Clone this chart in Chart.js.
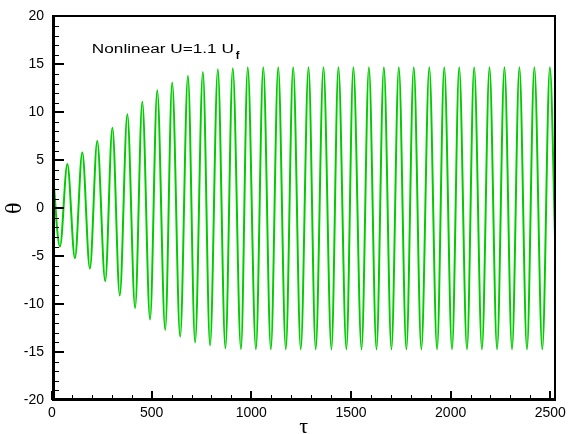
<!DOCTYPE html>
<html>
<head>
<meta charset="utf-8">
<script src="https://cdn.jsdelivr.net/npm/chart.js@4/dist/chart.umd.min.js"></script>
<style>
  html, body { margin: 0; padding: 0; background: #fff; }
  #wrap { width: 571px; height: 434px; }
</style>
</head>
<body>
<div id="wrap"><canvas id="chart"></canvas></div>
<script>
// values: local maxima / minima of theta(tau)
const startPoint = { x: 0, y: 5.0 };
const peakTau = [77, 152, 227, 303, 378, 453, 528, 603, 682, 757, 832, 907, 982, 1060, 1135, 1210, 1287,
  1362, 1437, 1512, 1590, 1665, 1740, 1815, 1893, 1968, 2043, 2118, 2195, 2270, 2345, 2420, 2498];
const peakTheta = [4.6, 5.8, 7.0, 8.4, 9.8, 11.1, 12.3, 13.1, 13.8, 14.2, 14.5, 14.6, 14.7, 14.7, 14.7, 14.7, 14.7,
  14.7, 14.7, 14.7, 14.7, 14.7, 14.7, 14.7, 14.7, 14.7, 14.7, 14.7, 14.7, 14.7, 14.7, 14.7, 14.7];
const troughTau = [40, 115, 190, 267, 340, 417, 492, 568, 643, 718, 793, 870, 948, 1023, 1098, 1173, 1248,
  1323, 1402, 1477, 1553, 1628, 1703, 1778, 1853, 1932, 2007, 2082, 2157, 2233, 2308, 2383, 2460];
const troughTheta = [-4.0, -5.2, -6.3, -7.6, -9.1, -10.4, -11.6, -12.7, -13.4, -14.0, -14.3, -14.6, -14.7, -14.7, -14.7, -14.7, -14.7,
  -14.7, -14.7, -14.7, -14.7, -14.7, -14.7, -14.7, -14.7, -14.7, -14.7, -14.7, -14.7, -14.7, -14.7, -14.7, -14.7];
const endPoint = { x: 2525, y: -4.0 };

const xTicks = [0, 500, 1000, 1500, 2000, 2500];
const yTicks = [-20, -15, -10, -5, 0, 5, 10, 15, 20];
const xMinorStep = 100;
const yMinorStep = 1;

const points = [startPoint, endPoint];
peakTau.forEach((t, i) => points.push({ x: t, y: peakTheta[i] }));
troughTau.forEach((t, i) => points.push({ x: t, y: troughTheta[i] }));
points.sort((a, b) => a.x - b.x);

const FONT = "'Liberation Sans', Arial, sans-serif";

const frame = {
  id: 'frame',
  afterDraw(chart) {
    const ctx = chart.ctx;
    const a = chart.chartArea;
    const x = chart.scales.x, y = chart.scales.y;
    const L = Math.round(a.left), R = Math.round(a.right), T = Math.round(a.top), B = Math.round(a.bottom);
    ctx.save();
    ctx.fillStyle = '#000';
    // minor ticks, inward
    for (let v = x.min; v <= x.max; v += xMinorStep) {
      const px = Math.round(x.getPixelForValue(v));
      ctx.fillRect(px, B - 5, 1, 5);
    }
    for (let v = y.min; v <= y.max; v += yMinorStep) {
      const py = Math.round(y.getPixelForValue(v));
      ctx.fillRect(L, py, 7, 1);
    }
    // major ticks
    xTicks.forEach(v => {
      const px = Math.round(x.getPixelForValue(v));
      ctx.fillRect(px - 1, B - 9, 2, 9);
    });
    yTicks.forEach(v => {
      const py = Math.round(y.getPixelForValue(v));
      ctx.fillRect(L, py - 1, 12, 2);
    });
    // box
    ctx.fillRect(L, T - 1, R - L + 1, 2);   // top
    ctx.fillRect(R - 1, T - 1, 2, B - T + 2); // right
    ctx.fillRect(L, T - 1, 3, B - T + 2);   // left
    ctx.fillRect(L, B - 2, R - L + 1, 3);   // bottom

    // label
    const lx = x.getPixelForValue(200), ly = y.getPixelForValue(16.2);
    const s = 'Nonlinear U=1.1 U';
    ctx.textBaseline = 'alphabetic';
    ctx.textAlign = 'left';
    ctx.font = '12px ' + FONT;
    const w = ctx.measureText(s).width;
    const k = 142 / w;
    ctx.save();
    ctx.translate(lx, ly);
    ctx.scale(k, 1);
    ctx.fillText(s, 0, 0);
    ctx.restore();
    ctx.font = 'bold 11px ' + FONT;
    ctx.fillText('f', lx + 144, ly + 6);
    ctx.restore();
  }
};

new Chart(document.getElementById('chart'), {
  type: 'line',
  data: {
    datasets: [{
      label: 'theta',
      data: points,
      borderColor: '#00cc00',
      borderWidth: 2,
      pointRadius: 0,
      fill: false,
      cubicInterpolationMode: 'monotone'
    }]
  },
  options: {
    responsive: true,
    maintainAspectRatio: false,
    animation: false,
    layout: { padding: { top: 15, right: 14, left: 0, bottom: 0 } },
    plugins: { legend: { display: false }, tooltip: { enabled: false } },
    scales: {
      x: {
        type: 'linear',
        min: 0,
        max: 2525,
        afterBuildTicks: s => { s.ticks = xTicks.map(v => ({ value: v })); },
        afterFit: s => { s.height = 34; },
        grid: { display: false, drawTicks: false },
        border: { display: false },
        ticks: { color: '#000', padding: 5, maxRotation: 0, font: { family: FONT, size: 14 }, callback: v => String(v) },
        title: { display: true, text: 'τ', color: '#000', padding: { top: 0, bottom: -6 }, font: { family: 'serif', size: 22 } }
      },
      y: {
        min: -20,
        max: 20,
        afterBuildTicks: s => { s.ticks = yTicks.map(v => ({ value: v })); },
        afterFit: s => { s.width = 52; },
        grid: { display: false, drawTicks: false },
        border: { display: false },
        ticks: { color: '#000', padding: 8, font: { family: FONT, size: 14 }, callback: v => String(v) },
        title: { display: true, text: 'θ', color: '#000', padding: { top: 0, bottom: 2 }, font: { family: 'serif', size: 24 } }
      }
    }
  },
  plugins: [frame]
});
</script>
</body>
</html>
